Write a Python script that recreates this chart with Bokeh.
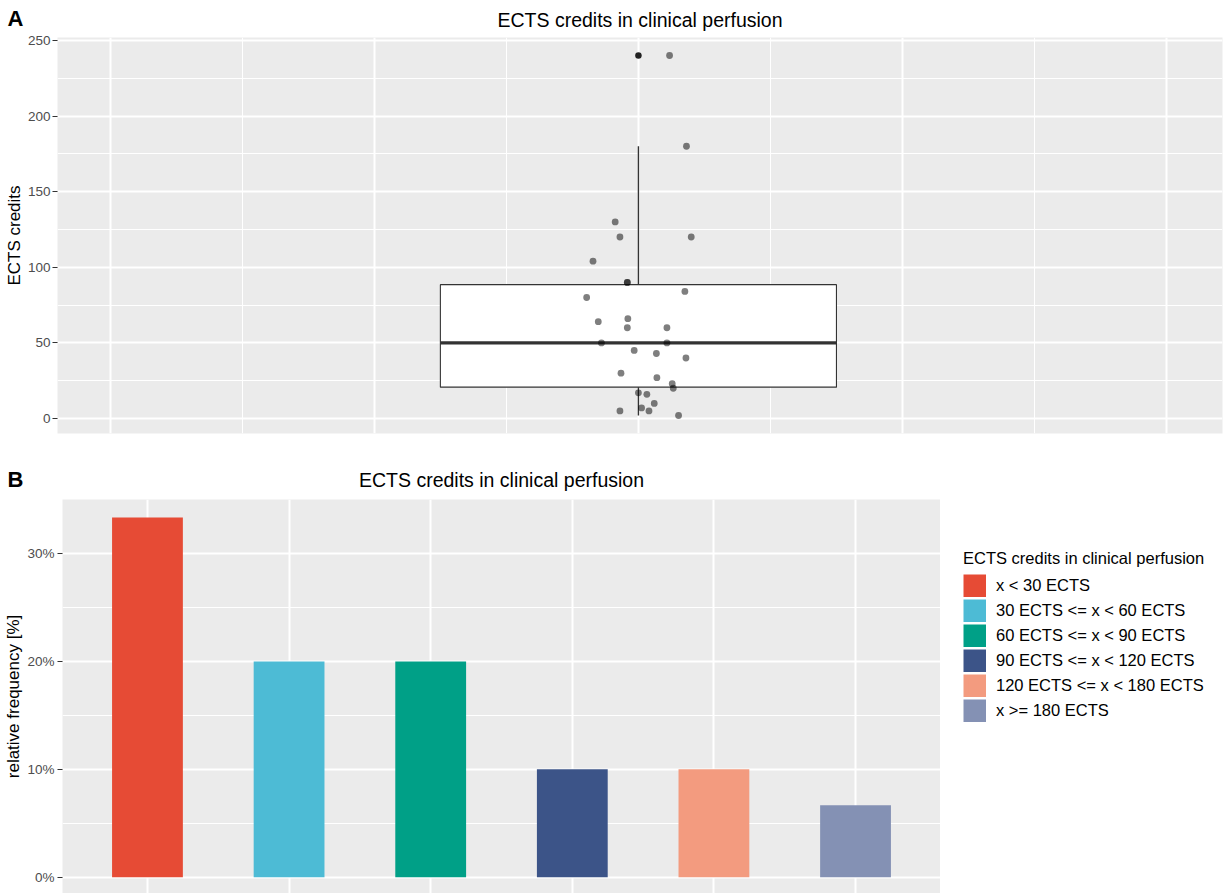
import numpy as np
from bokeh.plotting import figure
from bokeh.models import (Range1d, FactorRange, FixedTicker, Label, Legend, LegendItem,
                          PrintfTickFormatter, ColumnDataSource)
from bokeh.layouts import column, row
from bokeh.embed import file_html
from bokeh.resources import INLINE

FONT = "Liberation Sans"

# ---------------- data ----------------
# Panel A: individual ECTS credit values and their horizontal jitter
ects_values = [240, 180, 130, 120, 120, 104, 90, 90, 80, 84,
               64, 66, 60, 60, 50, 50, 45, 43, 40, 30,
               27, 23, 20, 17, 16, 10, 7, 5, 5, 2]
ects_jitter = [0.059, 0.091, -0.044, -0.035, 0.100, -0.086, -0.021, -0.021, -0.098, 0.088,
               -0.076, -0.020, -0.021, 0.054, -0.070, 0.054, -0.008, 0.034, 0.090, -0.033,
               0.035, 0.064, 0.066, 0.000, 0.016, 0.030, 0.006, 0.020, -0.035, 0.076]

# Panel B: relative frequency per category
categories = ["x < 30 ECTS", "30 ECTS <= x < 60 ECTS", "60 ECTS <= x < 90 ECTS",
              "90 ECTS <= x < 120 ECTS", "120 ECTS <= x < 180 ECTS", "x >= 180 ECTS"]
rel_freq = [33.33, 20.0, 20.0, 10.0, 10.0, 6.67]
bar_colors = ["#E64B35", "#4DBBD5", "#00A087", "#3C5488", "#F39B7F", "#8491B4"]

title_text = "ECTS credits in clinical perfusion"
y_ticks_a = [0, 50, 100, 150, 200, 250]
y_minor_a = [25, 75, 125, 175, 225]
y_ticks_b = [0, 10, 20, 30]
y_minor_b = [5, 15, 25, 35]

# ---------------- box statistics ----------------
vals = np.array(ects_values, dtype=float)
q1, med, q3 = np.percentile(vals, [25, 50, 75])
iqr = q3 - q1
hi_fence, lo_fence = q3 + 1.5 * iqr, q1 - 1.5 * iqr
upper_w = vals[vals <= hi_fence].max()
lower_w = vals[vals >= lo_fence].min()
outliers = vals[(vals > hi_fence) | (vals < lo_fence)]
half = 0.375

W = 1225


def blank(width, height, x_range=None):
    f = figure(width=width, height=height,
               x_range=x_range if x_range is not None else Range1d(0, width),
               y_range=Range1d(0, height),
               output_backend="svg", toolbar_location=None,
               x_axis_location=None, y_axis_location=None,
               min_border_left=0, min_border_right=0, min_border_top=0, min_border_bottom=0,
               frame_align=False)
    f.xgrid.visible = False
    f.ygrid.visible = False
    f.outline_line_color = None
    f.background_fill_color = "white"
    f.border_fill_color = "white"
    return f


def header(height, title_x, title_mid, letter, letter_mid):
    """A strip above a panel holding the panel letter and the panel title."""
    h = blank(W, height)
    h.add_layout(Label(x=15, y=height - letter_mid, text=letter, text_font=FONT,
                       text_font_size="22px", text_font_style="bold", text_color="black",
                       text_align="center", text_baseline="middle"))
    h.add_layout(Label(x=title_x, y=height - title_mid, text=title_text, text_font=FONT,
                       text_font_size="19.5px", text_font_style="normal", text_color="black",
                       text_align="center", text_baseline="middle"))
    return h


def style_common(p):
    p.background_fill_color = "#EBEBEB"
    p.border_fill_color = "white"
    p.outline_line_color = None
    for ax in p.yaxis:
        ax.axis_line_color = None
        ax.major_tick_line_color = "#333333"
        ax.major_tick_line_width = 1.1
        ax.major_tick_out = 5
        ax.major_tick_in = 0
        ax.minor_tick_line_color = None
        ax.major_label_text_font = FONT
        ax.major_label_text_font_size = "13.5px"
        ax.major_label_text_color = "#4D4D4D"
        ax.major_label_standoff = 2
        ax.axis_label_text_font = FONT
        ax.axis_label_text_font_size = "17px"
        ax.axis_label_text_font_style = "normal"
        ax.axis_label_text_color = "black"
        ax.axis_label_standoff = 1
    for g in list(p.xgrid) + list(p.ygrid):
        g.grid_line_color = "white"
        g.grid_line_width = 2
        g.minor_grid_line_color = "white"
        g.minor_grid_line_width = 1.1


# ---------------- Panel A ----------------
headA = header(32, 639.5, 19, "A", 18)

pA = figure(width=W, height=418, x_range=Range1d(-1.1, 1.106), y_range=Range1d(-9.9, 251.9),
            output_backend="svg", toolbar_location=None, x_axis_location=None,
            min_border_left=57, min_border_right=3, min_border_top=5, min_border_bottom=17,
            y_axis_label="ECTS credits", frame_align=False)
pA.yaxis.ticker = FixedTicker(ticks=y_ticks_a, minor_ticks=y_minor_a)
pA.ygrid.ticker = FixedTicker(ticks=y_ticks_a, minor_ticks=y_minor_a)
pA.xgrid.ticker = FixedTicker(ticks=[-1, -0.5, 0, 0.5, 1], minor_ticks=[-0.75, -0.25, 0.25, 0.75])
style_common(pA)

pA.quad(left=[-half], right=[half], bottom=[q1], top=[q3],
        fill_color="white", line_color="#333333", line_width=1.1)
pA.segment(x0=[0, 0], y0=[q3, q1], x1=[0, 0], y1=[upper_w, lower_w],
           line_color="#333333", line_width=1.4)
pA.segment(x0=[-half], y0=[med], x1=[half], y1=[med], line_color="#333333", line_width=3.2)
pA.scatter(x=[0] * len(outliers), y=outliers, size=6.5, fill_color="#222222", line_color=None)
pA.scatter(x=ects_jitter, y=ects_values, size=6.8, fill_color="black", line_color=None,
           fill_alpha=0.5)

# ---------------- Panel B ----------------
headB = header(49, 501, 29.5, "B", 29)

pB = figure(width=940, height=394,
            x_range=FactorRange(factors=categories, range_padding=0.1, range_padding_units="absolute"),
            y_range=Range1d(-1.5, 35.0),
            output_backend="svg", toolbar_location=None, x_axis_location=None,
            min_border_left=62, min_border_right=0, min_border_top=0, min_border_bottom=0,
            y_axis_label="relative frequency [%]", frame_align=False)
pB.yaxis.ticker = FixedTicker(ticks=y_ticks_b, minor_ticks=y_minor_b)
pB.ygrid.ticker = FixedTicker(ticks=y_ticks_b, minor_ticks=y_minor_b)
pB.yaxis.formatter = PrintfTickFormatter(format="%d%%")
style_common(pB)
pB.yaxis.major_label_standoff = 3

src = ColumnDataSource(dict(cat=categories, freq=rel_freq, color=bar_colors))
pB.vbar(x="cat", top="freq", bottom=0, width=0.5, fill_color="color", line_color=None, source=src)

# legend strip to the right of panel B (same bars, hidden, used only for the legend keys)
legFig = blank(W - 940, 394, x_range=FactorRange(factors=categories))
key_r = legFig.vbar(x="cat", top="freq", bottom=0, width=0.5, fill_color="color",
                    line_color="color", line_width=4.6, line_join="miter",
                    source=src, visible=False)
legend = Legend(items=[LegendItem(label=c, renderers=[key_r], index=i) for i, c in enumerate(categories)],
                location=(23, 171), title=title_text,
                title_text_font=FONT, title_text_font_size="16.5px", title_text_font_style="normal",
                title_text_color="black", title_standoff=6,
                label_text_font=FONT, label_text_font_size="16.5px", label_text_color="black",
                glyph_width=23, glyph_height=23, label_height=20, spacing=2, label_standoff=10,
                padding=0, margin=0, border_line_color=None, background_fill_alpha=0,
                inactive_fill_alpha=0)
legFig.add_layout(legend, "center")

layout = column(headA, pA, headB, row(pB, legFig, spacing=0), spacing=0)
open("out.html", "w").write(file_html(layout, INLINE))
